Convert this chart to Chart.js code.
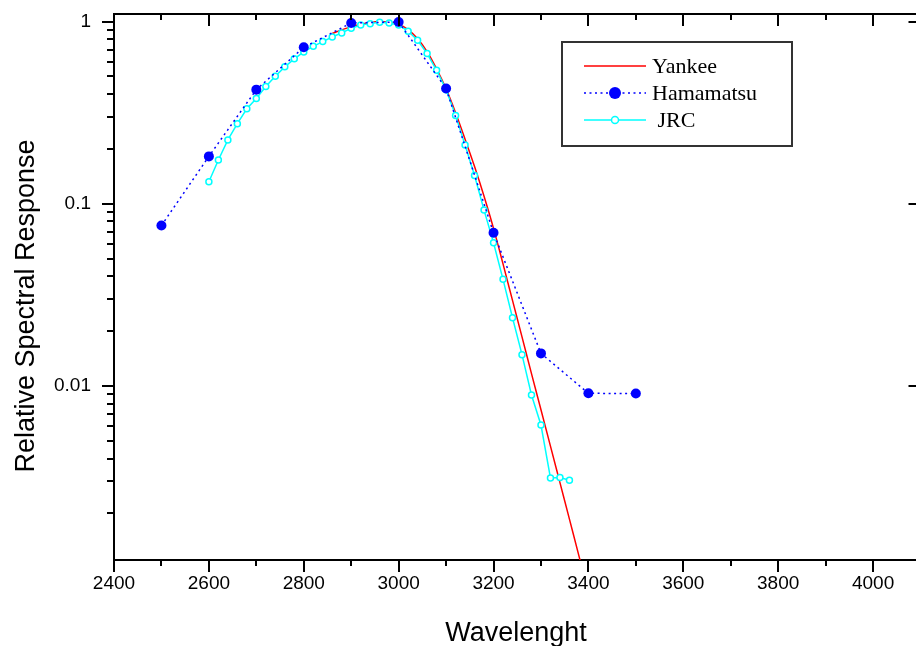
<!DOCTYPE html>
<html>
<head>
<meta charset="utf-8">
<script src="https://cdn.jsdelivr.net/npm/chart.js@4"></script>
<style>
html,body{margin:0;padding:0;background:#fff;overflow:hidden;}
#wrap{width:926px;height:646px;}
</style>
</head>
<body>
<div id="wrap"><canvas id="c" width="926" height="646"></canvas></div>
<script>
// ---- data ----
const hamWavelengths = [2500, 2600, 2700, 2800, 2900, 3000, 3100, 3200, 3300, 3400, 3500];
const hamValues      = [0.076, 0.182, 0.423, 0.722, 0.982, 0.995, 0.429, 0.0693, 0.0151, 0.00912, 0.00909];

const jrcWavelengths = [2600, 2620, 2640, 2660, 2680, 2700, 2720, 2740, 2760, 2780,
                        2800, 2820, 2840, 2860, 2880, 2900, 2920, 2940, 2960, 2980,
                        3000, 3020, 3040, 3060, 3080, 3100, 3120, 3140, 3160, 3180,
                        3200, 3220, 3240, 3260, 3280, 3300, 3320, 3340, 3360];
const jrcValues      = [0.132, 0.174, 0.224, 0.275, 0.332, 0.378, 0.440, 0.501, 0.564, 0.624,
                        0.681, 0.731, 0.776, 0.823, 0.866, 0.918, 0.958, 0.974, 0.990, 0.982,
                        0.958, 0.884, 0.789, 0.667, 0.540, 0.423, 0.305, 0.210, 0.143, 0.0923,
                        0.0611, 0.0385, 0.0237, 0.01486, 0.00893, 0.00611, 0.00313, 0.00315, 0.00304];

const yankeeWavelengths = [2860, 2880, 2900, 2920, 2940, 2960, 2980, 3000, 3020, 3040,
                           3060, 3080, 3100, 3120, 3140, 3160, 3180, 3200, 3220, 3240,
                           3260, 3280, 3300, 3320, 3340, 3360, 3380, 3400];
const yankeeValues      = [0.859, 0.900, 0.935, 0.966, 0.989, 1.0, 0.995, 0.968, 0.902, 0.804,
                           0.684, 0.550, 0.427, 0.316, 0.226, 0.160, 0.110, 0.0733, 0.0468, 0.0295,
                           0.0186, 0.0117, 0.00741, 0.00468, 0.00295, 0.00186, 0.00117, 0.00074];

const xTickLabels = [2400, 2600, 2800, 3000, 3200, 3400, 3600, 3800, 4000];
const yTickLabels = [1, 0.1, 0.01];
const seriesNames = ['Yankee', 'Hamamatsu', 'JRC'];
const xTitle = 'Wavelenght';
const yTitle = 'Relative Spectral Response';

const X_MIN = 2400, X_MAX = 4100, Y_MIN = 0.00111, Y_MAX = 1.1;

const toPts = (xs, ys) => xs.map((x, i) => ({x: x, y: ys[i]}));

const SANS = '"Liberation Sans", Arial, sans-serif';
const SERIF = '"Liberation Serif", "Times New Roman", serif';
const TICK_FONT = {family: SANS, size: 19};

// ---- frame, tick marks, titles and legend ----
const framePlugin = {
  id: 'frame',
  afterDraw(chart) {
    const {ctx, chartArea: a, scales} = chart;
    const xs = scales.x, ys = scales.y;
    ctx.save();
    ctx.strokeStyle = '#000';
    ctx.lineWidth = 2;
    ctx.lineCap = 'butt';
    const seg = (x1, y1, x2, y2) => { ctx.beginPath(); ctx.moveTo(x1, y1); ctx.lineTo(x2, y2); ctx.stroke(); };
    // top and right borders
    seg(a.left - 1, a.top, a.right + 1, a.top);
    seg(a.right, a.top, a.right, a.bottom);
    // x ticks (bottom outward, top inward)
    for (let v = X_MIN; v <= X_MAX; v += 100) {
      const px = Math.round(xs.getPixelForValue(v));
      const len = v % 200 === 0 ? 12 : 6;
      seg(px, a.bottom, px, a.bottom + len);
      seg(px, a.top, px, a.top + len);
    }
    // y ticks (left outward, right inward majors)
    for (let e = -3; e <= 0; e++) {
      for (let m = 1; m <= 9; m++) {
        const v = m * Math.pow(10, e);
        if (v < Y_MIN || v > Y_MAX) continue;
        const py = Math.round(ys.getPixelForValue(v));
        const major = m === 1;
        seg(a.left, py, a.left - (major ? 12 : 7), py);
        if (major) seg(a.right, py, a.right - 12, py);
      }
    }
    // axis titles
    ctx.fillStyle = '#000';
    ctx.font = '27px ' + SANS;
    ctx.textAlign = 'center';
    ctx.textBaseline = 'alphabetic';
    ctx.fillText(xTitle, 516, 641);
    ctx.save();
    ctx.translate(34, 306);
    ctx.rotate(-Math.PI / 2);
    ctx.fillText(yTitle, 0, 0);
    ctx.restore();
    // legend box
    const bx = 562, by = 42, bw = 230, bh = 104;
    ctx.fillStyle = '#fff';
    ctx.fillRect(bx, by, bw, bh);
    ctx.strokeStyle = '#333';
    ctx.lineWidth = 2;
    ctx.strokeRect(bx, by, bw, bh);
    const rows = [66, 93, 120];
    const dsOrder = [2, 0, 1]; // Yankee, Hamamatsu, JRC
    ctx.font = '22px ' + SERIF;
    ctx.textBaseline = 'middle';
    ctx.textAlign = 'left';
    dsOrder.forEach((di, r) => {
      const ds = chart.data.datasets[di];
      const y = rows[r];
      ctx.save();
      ctx.strokeStyle = ds.borderColor;
      ctx.lineWidth = ds.borderWidth;
      ctx.setLineDash(ds.borderDash || []);
      seg(584, y, 646, y);
      ctx.restore();
      if (ds.legendRadius > 0) {
        ctx.beginPath();
        ctx.arc(615, y, ds.legendRadius, 0, Math.PI * 2);
        ctx.fillStyle = ds.pointBackgroundColor;
        ctx.fill();
        if (ds.pointBorderWidth > 0) {
          ctx.lineWidth = ds.pointBorderWidth;
          ctx.strokeStyle = ds.pointBorderColor;
          ctx.stroke();
        }
      }
      ctx.fillStyle = '#000';
      ctx.fillText((di === 1 ? ' ' : '') + ds.label, 652, y + 1);
    });
    ctx.restore();
  }
};

const zeroPad = (s) => { s.paddingTop = 0; s.paddingBottom = 0; s.paddingLeft = 0; s.paddingRight = 0; };

new Chart(document.getElementById('c'), {
  type: 'line',
  data: {
    datasets: [
      {
        label: seriesNames[1],
        data: toPts(hamWavelengths, hamValues),
        borderColor: '#0000ff',
        borderWidth: 1.5,
        borderDash: [2, 3.5],
        pointRadius: 5,
        legendRadius: 6,
        pointBackgroundColor: '#0000ff',
        pointBorderColor: '#0000ff',
        pointBorderWidth: 0,
        tension: 0
      },
      {
        label: seriesNames[2],
        data: toPts(jrcWavelengths, jrcValues),
        borderColor: '#00ffff',
        borderWidth: 1.5,
        pointRadius: 3,
        legendRadius: 3.5,
        pointBackgroundColor: '#ffffff',
        pointBorderColor: '#00ffff',
        pointBorderWidth: 1.5,
        tension: 0
      },
      {
        label: seriesNames[0],
        data: toPts(yankeeWavelengths, yankeeValues),
        borderColor: '#ff0000',
        borderWidth: 1.5,
        pointRadius: 0,
        legendRadius: 0,
        pointBackgroundColor: '#ff0000',
        pointBorderWidth: 0,
        cubicInterpolationMode: 'monotone'
      }
    ]
  },
  options: {
    responsive: false,
    animation: false,
    devicePixelRatio: 1,
    layout: {padding: {top: 14, right: 3, bottom: 0, left: 0}},
    plugins: {legend: {display: false}, tooltip: {enabled: false}},
    scales: {
      x: {
        type: 'linear',
        min: X_MIN, max: X_MAX,
        afterFit: (s) => { s.height = 86; zeroPad(s); },
        grid: {display: false, drawTicks: false},
        border: {display: true, color: '#000', width: 2},
        ticks: {
          stepSize: 200,
          includeBounds: false,
          autoSkip: false,
          maxRotation: 0,
          padding: 12,
          color: '#000',
          font: TICK_FONT,
          callback: (v) => xTickLabels.includes(v) ? String(v) : ''
        },
        title: {display: false}
      },
      y: {
        type: 'logarithmic',
        min: Y_MIN, max: Y_MAX,
        afterFit: (s) => { s.width = 114; zeroPad(s); },
        grid: {display: false, drawTicks: false},
        border: {display: true, color: '#000', width: 2},
        ticks: {
          autoSkip: false,
          padding: 23,
          color: '#000',
          font: TICK_FONT,
          callback: (v) => {
            const hit = yTickLabels.find(t => Math.abs(t - v) < t * 1e-6);
            return hit !== undefined ? String(hit) : '';
          }
        },
        title: {display: false}
      }
    }
  },
  plugins: [framePlugin]
});
</script>
</body>
</html>
